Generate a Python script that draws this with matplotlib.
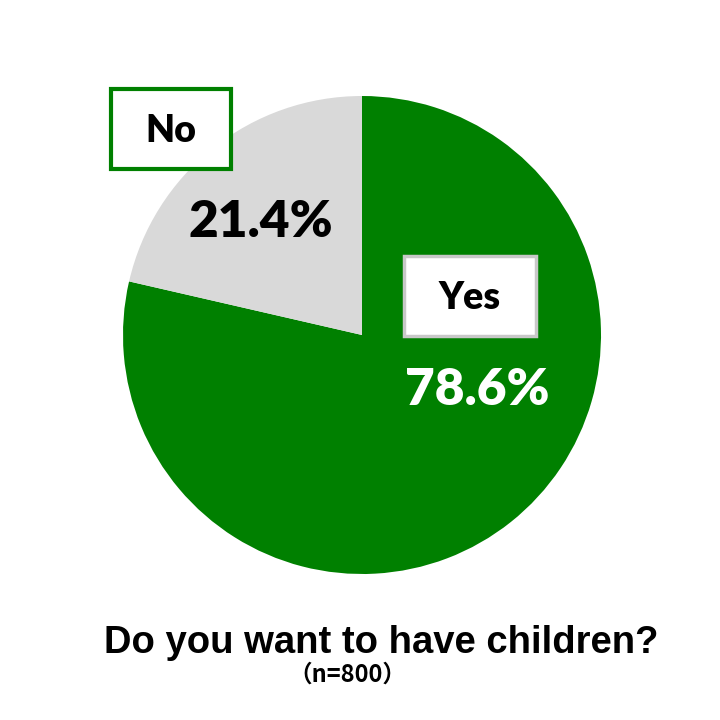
import matplotlib.pyplot as plt
from matplotlib.patches import Rectangle

# data
labels = ['Yes', 'No']
shares = [78.6, 21.4]
colors = ['#008000', '#d9d9d9']
title = 'Do you want to have children?'
sample = '（n=800）'

H = 720
fig = plt.figure(figsize=(7.2, 7.2), dpi=100)
ax = fig.add_axes([0, 0, 1, 1])


def py(y):
    # pixel row from top -> data y
    return H - y


ax.pie(shares, colors=colors, startangle=90, counterclock=False,
       center=(362, py(335)), radius=239, frame=True,
       wedgeprops=dict(linewidth=0))
ax.set_xlim(0, 720)
ax.set_ylim(0, 720)
ax.set_aspect('equal')
ax.axis('off')

lab_font = 'Lato'

# No label box
ax.add_patch(Rectangle((111, py(169)), 120, 80, facecolor='white',
                       edgecolor='#008000', linewidth=3, zorder=3))
ax.text(171, py(131), labels[1], ha='center', va='center', fontsize=27,
        fontweight='heavy', family=lab_font, color='black', zorder=4)
ax.text(261, py(222), f'{shares[1]:.1f}%', ha='center', va='center',
        fontsize=37, fontweight='heavy', family=lab_font, color='black', zorder=4)

# Yes label box
ax.add_patch(Rectangle((404, py(336)), 132, 80, facecolor='white',
                       edgecolor='#c8c8c8', linewidth=2.5, zorder=3))
ax.text(470, py(298), labels[0], ha='center', va='center', fontsize=27,
        fontweight='heavy', family=lab_font, color='black', zorder=4)
ax.text(477, py(390), f'{shares[0]:.1f}%', ha='center', va='center',
        fontsize=37, fontweight='heavy', family=lab_font, color='white', zorder=4)

ax.text(381, py(643), title, ha='center', va='center', fontsize=27.5,
        fontweight='bold', family=['Liberation Sans', 'DejaVu Sans'], color='black')
ax.text(347, py(675), sample, ha='center', va='center', fontsize=17,
        fontweight='bold', family=['Noto Sans CJK JP', 'DejaVu Sans'], color='black')

fig.savefig('out.png', dpi=100, facecolor='white')
